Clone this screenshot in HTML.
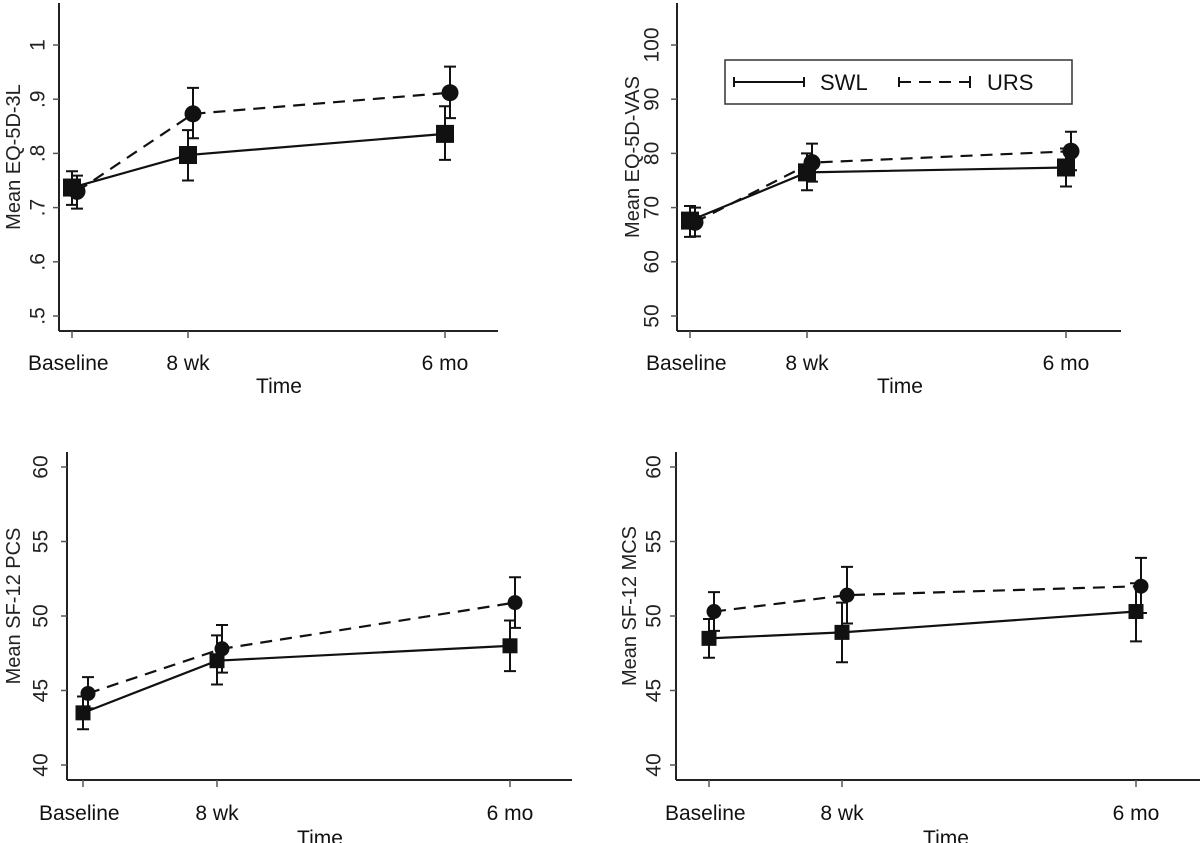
<!DOCTYPE html>
<html><head><meta charset="utf-8"><style>
html,body{margin:0;padding:0;background:#fff;}
svg{display:block;font-family:"Liberation Sans",sans-serif;}
</style></head><body>
<svg id="chart" width="1200" height="843" viewBox="0 0 1200 843"></svg>
<script>
const timepoints = ["Baseline", "8 wk", "6 mo"];
const p1Ticks = [".5", ".6", ".7", ".8", ".9", "1"];
const p1TickVals = [0.5, 0.6, 0.7, 0.8, 0.9, 1.0];
const p1Swl = [0.737, 0.797, 0.836];
const p1SwlLo = [0.705, 0.750, 0.788];
const p1SwlHi = [0.767, 0.843, 0.887];
const p1Urs = [0.730, 0.873, 0.912];
const p1UrsLo = [0.698, 0.828, 0.865];
const p1UrsHi = [0.759, 0.921, 0.960];
const p2Ticks = ["50", "60", "70", "80", "90", "100"];
const p2TickVals = [50, 60, 70, 80, 90, 100];
const p2Swl = [67.6, 76.5, 77.4];
const p2SwlLo = [64.6, 73.2, 73.9];
const p2SwlHi = [70.3, 80.0, 80.9];
const p2Urs = [67.3, 78.3, 80.4];
const p2UrsLo = [64.7, 74.8, 76.9];
const p2UrsHi = [70.0, 81.8, 84.0];
const p3Ticks = ["40", "45", "50", "55", "60"];
const p3TickVals = [40, 45, 50, 55, 60];
const p3Swl = [43.5, 47.0, 48.0];
const p3SwlLo = [42.4, 45.4, 46.3];
const p3SwlHi = [44.6, 48.7, 49.7];
const p3Urs = [44.8, 47.8, 50.9];
const p3UrsLo = [43.8, 46.2, 49.2];
const p3UrsHi = [45.9, 49.4, 52.6];
const p4Ticks = ["40", "45", "50", "55", "60"];
const p4TickVals = [40, 45, 50, 55, 60];
const p4Swl = [48.5, 48.9, 50.3];
const p4SwlLo = [47.2, 46.9, 48.3];
const p4SwlHi = [49.8, 50.9, 52.2];
const p4Urs = [50.3, 51.4, 52.0];
const p4UrsLo = [49.0, 49.5, 50.2];
const p4UrsHi = [51.6, 53.3, 53.9];

const NS = "http://www.w3.org/2000/svg";
const svg = document.getElementById("chart");
function mk(tag, attrs, parent, text) {
  const e = document.createElementNS(NS, tag);
  for (const k in attrs) e.setAttribute(k, attrs[k]);
  if (text !== undefined) e.textContent = text;
  (parent || svg).appendChild(e);
  return e;
}

const panels = [
  {id:"eq5d-3l", title:"Mean EQ-5D-3L", ax:59, axTop:3, axBot:331, axRight:498, xs:[72,188,445],
   v0:0.5, y0:316, v1:1.0, y1:45, ticks:p1Ticks, tv:p1TickVals, tlx:38, ttx:14, xlabY:370, timeY:393, timeX:279,
   swl:p1Swl, swlLo:p1SwlLo, swlHi:p1SwlHi, urs:p1Urs, ursLo:p1UrsLo, ursHi:p1UrsHi, sq:18, cr:8.5, fs:21},
  {id:"eq5d-vas", title:"Mean EQ-5D-VAS", ax:677, axTop:3, axBot:331, axRight:1121, xs:[690,807,1066],
   v0:50, y0:316, v1:100, y1:45, ticks:p2Ticks, tv:p2TickVals, tlx:652, ttx:633, xlabY:370, timeY:393, timeX:900,
   swl:p2Swl, swlLo:p2SwlLo, swlHi:p2SwlHi, urs:p2Urs, ursLo:p2UrsLo, ursHi:p2UrsHi, sq:18, cr:8.5, fs:21},
  {id:"sf12-pcs", title:"Mean SF-12 PCS", ax:67, axTop:452, axBot:780, axRight:572, xs:[83,217,510],
   v0:40, y0:765, v1:60, y1:467, ticks:p3Ticks, tv:p3TickVals, tlx:41, ttx:14, xlabY:820, timeY:845, timeX:320,
   swl:p3Swl, swlLo:p3SwlLo, swlHi:p3SwlHi, urs:p3Urs, ursLo:p3UrsLo, ursHi:p3UrsHi, sq:15, cr:7.5, fs:21},
  {id:"sf12-mcs", title:"Mean SF-12 MCS", ax:676, axTop:452, axBot:780, axRight:1200, xs:[709,842,1136],
   v0:40, y0:765, v1:60, y1:467, ticks:p4Ticks, tv:p4TickVals, tlx:654, ttx:630, xlabY:820, timeY:845, timeX:946,
   swl:p4Swl, swlLo:p4SwlLo, swlHi:p4SwlHi, urs:p4Urs, ursLo:p4UrsLo, ursHi:p4UrsHi, sq:15, cr:7.5, fs:21}
];

panels.forEach(p => {
  const g = mk("g", {});
  
  
  const y = v => p.y0 + (v - p.v0) * (p.y1 - p.y0) / (p.v1 - p.v0);
  const ya = mk("line", {x1:p.ax, y1:p.axTop, x2:p.ax, y2:p.axBot, stroke:"#222", "stroke-width":2}, g);
  
  
  const xa = mk("line", {x1:p.ax, y1:p.axBot, x2:p.axRight, y2:p.axBot, stroke:"#222", "stroke-width":2}, g);
  
  
  p.tv.forEach((v, i) => {
    const yy = y(v);
    mk("line", {x1:p.ax - 6, y1:yy, x2:p.ax, y2:yy, stroke:"#555", "stroke-width":1.5}, g);
    const t = mk("text", {x:p.tlx, y:yy, transform:`rotate(-90 ${p.tlx} ${yy})`, "text-anchor":"middle", "font-size":p.fs, fill:"#222", "dominant-baseline":"central"}, g, p.ticks[i]);
    
    
  });
  const ty = (p.axTop + p.axBot) / 2 - 10;
  const yt = mk("text", {x:p.ttx, y:ty, transform:`rotate(-90 ${p.ttx} ${ty})`, "text-anchor":"middle", "font-size":20, fill:"#222", "dominant-baseline":"central"}, g, p.title);
  
  
  timepoints.forEach((lab, i) => {
    mk("line", {x1:p.xs[i], y1:p.axBot, x2:p.xs[i], y2:p.axBot + 7, stroke:"#555", "stroke-width":1.5}, g);
    const t = mk("text", {x:p.xs[i], y:p.xlabY, "text-anchor": i === 0 ? "start" : "middle", "font-size":21, fill:"#111"}, g, lab);
    if (i === 0) t.setAttribute("x", p.xs[i] - 44);
    
    
  });
  const tt = mk("text", {x:p.timeX, y:p.timeY, "text-anchor":"middle", "font-size":21, fill:"#111"}, g, "Time");
  
  

  const series = [
    {name:"swl", vals:p.swl, lo:p.swlLo, hi:p.swlHi, dx:0, dash:null},
    {name:"urs", vals:p.urs, lo:p.ursLo, hi:p.ursHi, dx:5, dash:"12 8"}
  ];
  series.forEach(s => {
    const sg = mk("g", {}, g);
    
    
    const pts = s.vals.map((v, i) => `${p.xs[i] + s.dx},${y(v)}`).join(" ");
    const pl = mk("polyline", {points:pts, fill:"none", stroke:"#111", "stroke-width":2.2}, sg);
    if (s.dash) pl.setAttribute("stroke-dasharray", s.dash);
    
    
    s.vals.forEach((v, i) => {
      const x = p.xs[i] + s.dx;
      const eb = mk("path", {d:`M${x},${y(s.lo[i])}V${y(s.hi[i])}M${x-6},${y(s.lo[i])}H${x+6}M${x-6},${y(s.hi[i])}H${x+6}`, stroke:"#111", "stroke-width":2, fill:"none"}, sg);
      
      
      let m;
      if (s.name === "swl") m = mk("rect", {x:x - p.sq/2, y:y(v) - p.sq/2, width:p.sq, height:p.sq, fill:"#111"}, sg);
      else m = mk("circle", {cx:x, cy:y(v), r:p.cr, fill:"#111"}, sg);
      
      
    });
  });
});

const lg = mk("g", {});


mk("rect", {x:725, y:60, width:347, height:44, fill:"#fff", stroke:"#333", "stroke-width":1.5}, lg);
const l1 = mk("path", {d:"M734,82H804M734,77V87M804,77V87", stroke:"#111", "stroke-width":2, fill:"none"}, lg);


const t1 = mk("text", {x:820, y:90, "font-size":22, fill:"#111"}, lg, "SWL");


const l2 = mk("path", {d:"M899,82H970M899,77V87", stroke:"#111", "stroke-width":2, fill:"none", "stroke-dasharray":"12 8"}, lg);


mk("path", {d:"M970,76V88", stroke:"#111", "stroke-width":2}, lg);
const t2 = mk("text", {x:987, y:90, "font-size":22, fill:"#111"}, lg, "URS");


</script>
</body></html>
